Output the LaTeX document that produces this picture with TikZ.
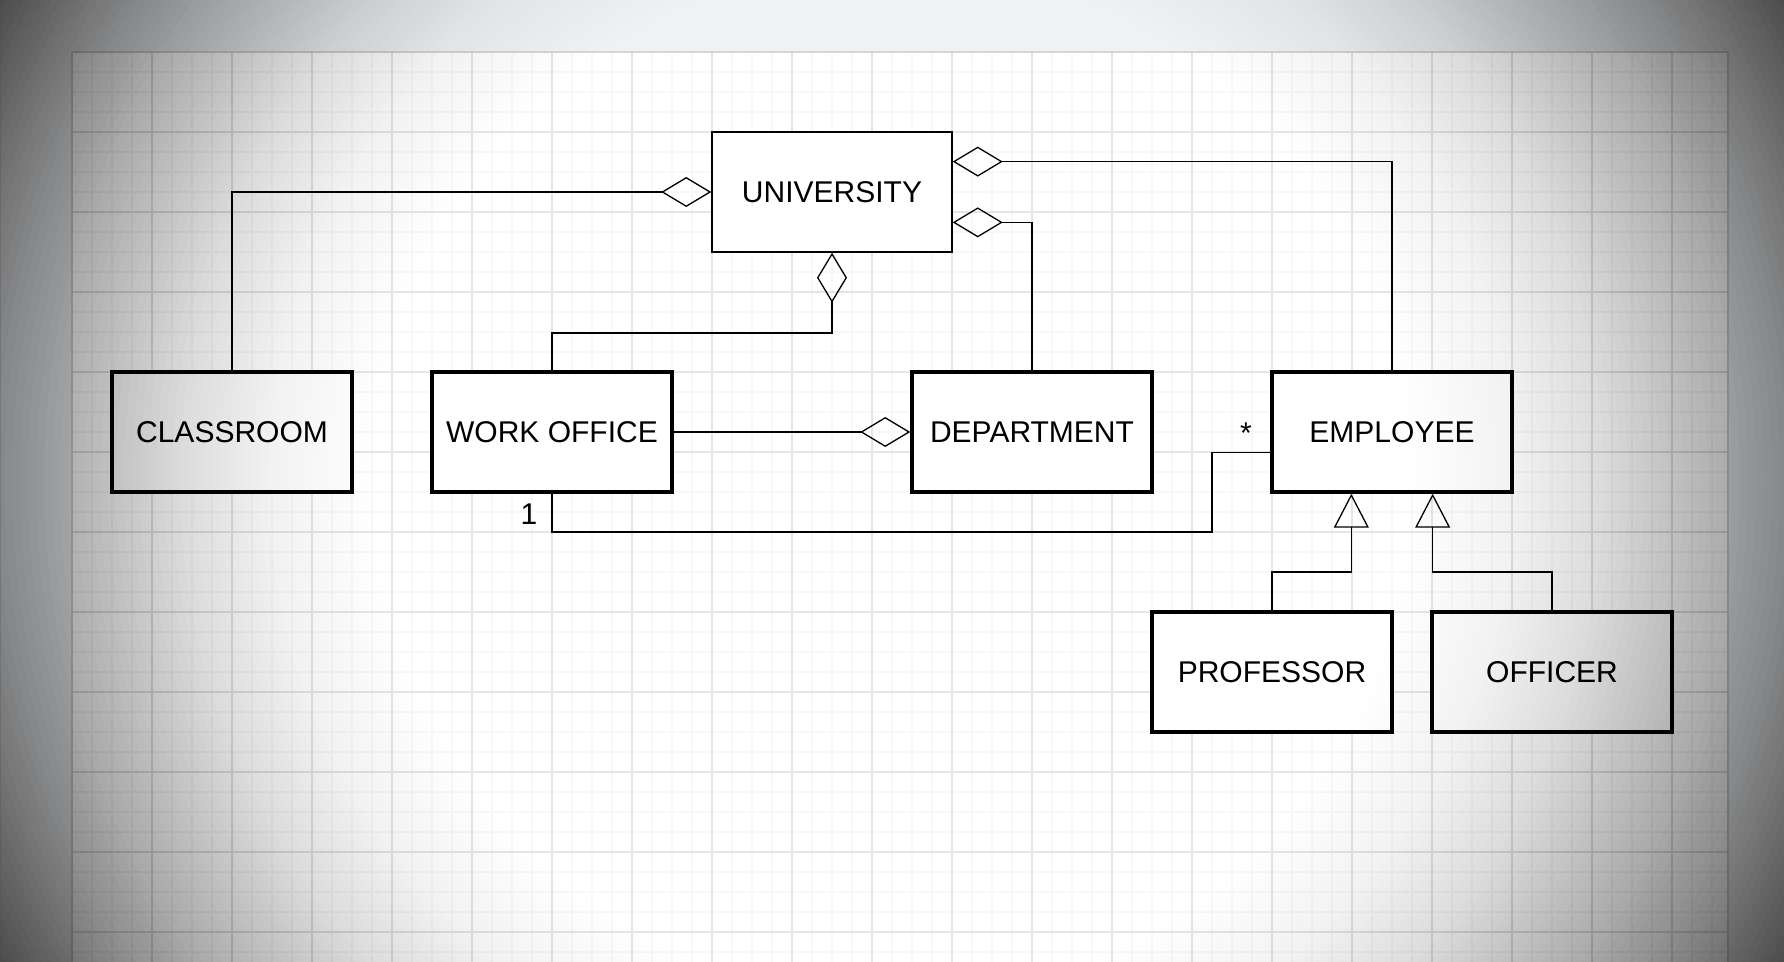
\documentclass[tikz,border=0pt]{standalone}
\usepackage{fontspec}
\setmainfont{Liberation Sans}
\usetikzlibrary{arrows.meta,calc}

\definecolor{deskbg}{HTML}{F0F1F2}
\definecolor{minorline}{HTML}{F8F8F8}
\definecolor{majorline}{HTML}{E5E5E5}
\definecolor{pageedge}{HTML}{D6D6D6}

\begin{document}
\begin{tikzpicture}[x=0.5pt,y=-0.5pt,
  cls/.style={draw=black, line width=1.75pt, fill=white,
    minimum width=120pt, minimum height=60pt, inner sep=0pt,
    font=\fontsize{15pt}{18pt}\selectfont},
  thincls/.style={cls, line width=0.75pt},
  conn/.style={draw=black, line width=0.65pt},
  agg/.style={conn, -{Diamond[open, length=25pt, width=15pt]}},
  gen/.style={conn, -{Triangle[open, length=17pt, width=17.5pt]}},
  mult/.style={font=\fontsize{15pt}{18pt}\selectfont, inner sep=0pt, anchor=base},
  minorgrid/.style={draw=minorline, line width=0.9pt},
  majorgrid/.style={draw=majorline, line width=0.75pt}]

\useasboundingbox (0,0) rectangle (1784,962);

% desk and page
\fill[deskbg] (0,0) rectangle (1784,962);
\fill[white] (72,52) rectangle (1728,975);

% page grid
\foreach \k in {1,...,82} \draw[minorgrid] ({72+20*\k},52) -- ({72+20*\k},962);
\foreach \k in {1,...,45} \draw[minorgrid] (72,{52+20*\k}) -- (1728,{52+20*\k});
\foreach \k in {1,...,20} \draw[majorgrid] ({72+80*\k},52) -- ({72+80*\k},962);
\foreach \k in {1,...,11} \draw[majorgrid] (72,{52+80*\k}) -- (1728,{52+80*\k});
\draw[pageedge, line width=0.9pt] (72,975) -- (72,52) -- (1728,52) -- (1728,975);

% classes
\node[thincls] (univ) at (832,192) {UNIVERSITY};
\node[cls] (room) at (232,432) {CLASSROOM};
\node[cls] (work) at (552,432) {WORK OFFICE};
\node[cls] (dept) at (1032,432) {DEPARTMENT};
\node[cls] (emp)  at (1392,432) {EMPLOYEE};
\node[cls] (prof) at (1272,672) {PROFESSOR};
\node[cls] (offi) at (1552,672) {OFFICER};

% routing levels
\coordinate (wy) at (0,333);
\coordinate (ay) at (1212,532);
\coordinate (gy) at (0,572);

% aggregations
\draw[agg] (room.north) |- (univ.west);
\draw[agg] (work.north) -- (work.north |- wy) -| (univ.south);
\draw[agg] (dept.north) |- ($(univ.north east)!0.75!(univ.south east)$);
\draw[agg] (emp.north) |- ($(univ.north east)!0.25!(univ.south east)$);
\draw[agg] (work.east) -- (dept.west);

% association with multiplicities
\draw[conn] (work.south) |- (ay) |- ($(emp.north west)!0.667!(emp.south west)$);
\node[mult] (one) at (529,524) {1};
\node[mult] (many) at (1246,444) {*};

% generalizations
\draw[gen] (prof.north) -- (prof.north |- gy) -| ($(emp.south west)!0.333!(emp.south east)$);
\draw[gen] (offi.north) -- (offi.north |- gy) -| ($(emp.south west)!0.667!(emp.south east)$);

% edge darkening: thin layers outside growing circles,
% total opacity 0.82*((r-480)/620)^1.8 at radius r
\foreach \r in {488,496,...,1016} {
  \pgfmathsetmacro{\oa}{0.82*(max((\r-480)/620,0.0001))^1.8}
  \pgfmathsetmacro{\ob}{0.82*(max((\r-488)/620,0.0001))^1.8}
  \pgfmathsetmacro{\al}{1-(1-\oa)/(1-\ob)}
  \fill[black, fill opacity=\al, even odd rule]
    (0,0) rectangle (1784,962) (892,481) circle[radius=\r];
}
\end{tikzpicture}
\end{document}
